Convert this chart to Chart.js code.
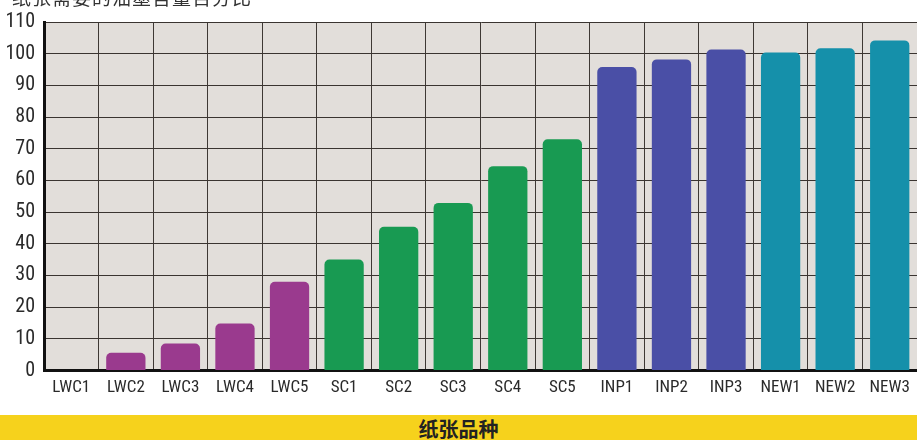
<!DOCTYPE html>
<html>
<head>
<meta charset="utf-8">
<script src="https://cdn.jsdelivr.net/npm/chart.js@4/dist/chart.umd.min.js"></script>
<style>
  html, body { margin: 0; padding: 0; background: #ffffff; }
  #wrap { position: relative; width: 917px; height: 440px; overflow: hidden; background: #ffffff; }
  #topTitle {
    position: absolute; left: 12px; top: -17px;
    font-family: "Noto Sans CJK SC", sans-serif; font-size: 19px; color: #333;
    white-space: nowrap; letter-spacing: 1px;
  }
  #chartBox { position: absolute; left: 0; top: 0; width: 917px; height: 400px; }
  #band {
    position: absolute; left: 0; top: 415px; width: 917px; height: 25px;
    background: #f6d21c;
    font-family: "Noto Sans CJK SC", sans-serif; font-weight: bold; font-size: 20px; color: #222;
    text-align: center; line-height: 27px;
  }
</style>
</head>
<body>
<div id="wrap">
  <div id="chartBox"><canvas id="c" width="917" height="400"></canvas></div>
  <div id="topTitle">纸张需要的油墨含量百分比</div>
  <div id="band">纸张品种</div>
</div>
<script>
// Paper grades and ink requirement (%)
const categories = ["LWC1","LWC2","LWC3","LWC4","LWC5","SC1","SC2","SC3","SC4","SC5","INP1","INP2","INP3","NEW1","NEW2","NEW3"];
const inkValues  = [0, 5.6, 8.5, 14.8, 28, 35, 45.4, 52.9, 64.5, 73, 95.8, 98.2, 101.3, 100.4, 101.7, 104.2];
const yTicks     = [0,10,20,30,40,50,60,70,80,90,100,110];

// Colour per paper family
const familyColors = { LWC: "#9a3a8e", SC: "#189a52", INP: "#4a4fa6", NEW: "#1590aa" };
const barColors = categories.map(c => familyColors[c.replace(/[0-9]/g, "")]);

const plotBackground = {
  id: "plotBackground",
  beforeDraw(chart) {
    const { ctx, chartArea: a } = chart;
    ctx.save();
    ctx.fillStyle = "#e2deda";
    ctx.fillRect(a.left, a.top, a.right - a.left, a.bottom - a.top);
    ctx.restore();
  }
};

const tickFont = "'Liberation Sans Narrow', 'Roboto Condensed', sans-serif";

new Chart(document.getElementById("c"), {
  type: "bar",
  data: {
    labels: categories,
    datasets: [{
      data: inkValues,
      backgroundColor: barColors,
      borderWidth: 0,
      borderRadius: { topLeft: 5, topRight: 5, bottomLeft: 0, bottomRight: 0 },
      borderSkipped: "bottom",
      barPercentage: 0.8,
      categoryPercentage: 0.9
    }]
  },
  options: {
    responsive: false,
    animation: false,
    layout: { padding: { top: 22, right: 0, left: 0, bottom: 0 } },
    plugins: { legend: { display: false }, tooltip: { enabled: false } },
    scales: {
      x: {
        offset: true,
        grid: { display: true, offset: true, color: "#3e3834", lineWidth: 1, drawTicks: false },
        border: { display: true, color: "#111", width: 3 },
        ticks: {
          color: "#2a2a2a", padding: 7,
          font: { family: tickFont, size: 17 },
          maxRotation: 0, autoSkip: false
        },
        afterFit(scale) { scale.height = 29.5; }
      },
      y: {
        min: 0, max: 110,
        afterBuildTicks(scale) { scale.ticks = yTicks.map(v => ({ value: v })); },
        grid: { color: "#3a3430", lineWidth: 1, drawTicks: false },
        border: { display: true, color: "#111", width: 3 },
        ticks: {
          color: "#2a2a2a", padding: 9,
          font: { family: tickFont, size: 20 }
        },
        afterFit(scale) { scale.width = 44; }
      }
    }
  },
  plugins: [plotBackground]
});
</script>
</body>
</html>
